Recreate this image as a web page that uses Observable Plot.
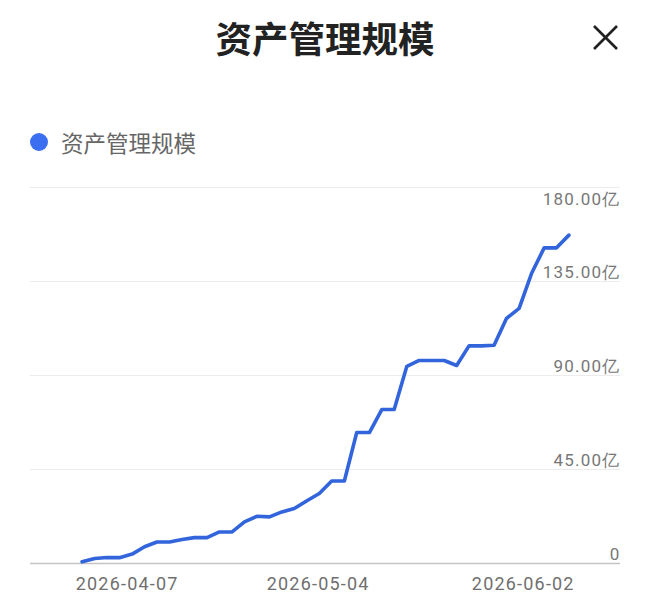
<!DOCTYPE html>
<html><head><meta charset="utf-8">
<script src="https://cdn.jsdelivr.net/npm/d3@7"></script>
<script src="https://cdn.jsdelivr.net/npm/@observablehq/plot@0.6"></script>
<style>
body{margin:0;width:650px;height:610px;background:#fff;position:relative;overflow:hidden;font-family:"Noto Sans CJK SC",Roboto,sans-serif;}
#title{position:absolute;left:0;width:650px;top:13px;text-align:center;font-size:36.5px;font-weight:700;color:#222;line-height:50px}
#close{position:absolute;left:590px;top:22px;}
#legend{position:absolute;left:30px;top:127px;display:flex;align-items:center;font-size:22.5px;color:#666;line-height:30px}
#legend .dot{width:18px;height:18px;border-radius:50%;background:#3b6ef0;margin-right:13px}
#chart{position:absolute;left:0;top:170px}
#chart svg text{letter-spacing:1.2px}
</style>
</head><body>
<div id="title">资产管理规模</div>
<svg id="close" width="32" height="32"><line x1="4" y1="4" x2="27" y2="27" stroke="#222" stroke-width="2.6"/><line x1="27" y1="4" x2="4" y2="27" stroke="#222" stroke-width="2.6"/></svg>
<div id="legend"><span class="dot"></span><span>资产管理规模</span></div>
<div id="chart"></div>
<script>
const seriesName = "资产管理规模";
const dates = ["2026-03-31T15:00","2026-04-02T10:00","2026-04-04T04:00","2026-04-05T22:00","2026-04-07T17:00","2026-04-09T11:00","2026-04-11T05:00","2026-04-13T00:00","2026-04-14T18:00","2026-04-16T12:00","2026-04-18T07:00","2026-04-20T01:00","2026-04-21T20:00","2026-04-23T14:00","2026-04-25T08:00","2026-04-27T03:00","2026-04-28T21:00","2026-04-30T15:00","2026-05-02T10:00","2026-05-04T04:00","2026-05-05T22:00","2026-05-07T17:00","2026-05-09T11:00","2026-05-11T06:00","2026-05-13T00:00","2026-05-14T18:00","2026-05-16T13:00","2026-05-18T07:00","2026-05-20T01:00","2026-05-21T20:00","2026-05-23T14:00","2026-05-25T08:00","2026-05-27T03:00","2026-05-28T21:00","2026-05-30T15:00","2026-06-01T10:00","2026-06-03T04:00","2026-06-04T23:00","2026-06-06T17:00","2026-06-08T11:00"];
const values = [0.8,2.4,2.9,2.8,4.5,8.0,10.3,10.3,11.5,12.4,12.4,15.1,15.1,19.9,22.6,22.3,24.7,26.3,30.0,33.5,39.5,39.5,62.7,62.7,73.7,73.7,94.4,97.2,97.2,97.2,94.8,104.2,104.2,104.5,117.3,122.1,138.8,151.1,151.1,157.2];
const xTickLabels = ["2026-04-07","2026-05-04","2026-06-02"];
const xDomain = ["2026-03-24T08:00","2026-06-15T18:00"];
const yTicks = [0,45,90,135];
const yTopTick = [180];
const yDomain = [0,180];

const parse = s => new Date(s + (s.length > 10 ? "Z" : "T00:00Z"));
const data = dates.map((d,i) => ({date: parse(d), value: values[i]}));
const fmtY = d => d === 0 ? "0" : d.toFixed(2) + "亿";
const fmtX = d3.utcFormat("%Y-%m-%d");
const col = "#3265dc";

const chart = Plot.plot({
  width: 650, height: 440,
  marginLeft: 30, marginRight: 30, marginTop: 17, marginBottom: 47,
  x: {type: "utc", domain: xDomain.map(parse)},
  y: {domain: yDomain},
  style: {fontFamily: "Roboto, sans-serif", fontSize: "17px", color: "#777", background: "transparent"},
  marks: [
    Plot.ruleY([...yTicks.slice(1), ...yTopTick], {stroke: "#ececec", strokeWidth: 1}),
    Plot.ruleY([0], {stroke: "#c4c4c4", strokeWidth: 1.5}),
    Plot.line(data, {x: "date", y: "value", stroke: col, strokeWidth: 3.6, strokeLinejoin: "round", strokeLinecap: "round"}),
    Plot.axisX(xTickLabels.map(parse), {tickSize: 0, tickPadding: 14, tickFormat: fmtX, label: null, fill: "#6f6f6f", fontSize: 18}),
    Plot.axisY(yTicks, {anchor: "right", textAnchor: "end", tickSize: 0, tickPadding: 0, dy: -9, tickFormat: fmtY, label: null, fill: "#777"}),
    Plot.axisY(yTopTick, {anchor: "right", textAnchor: "end", tickSize: 0, tickPadding: 0, dy: 12, tickFormat: fmtY, label: null, fill: "#777"})
  ]
});
document.getElementById("chart").appendChild(chart);
</script>
</body></html>
